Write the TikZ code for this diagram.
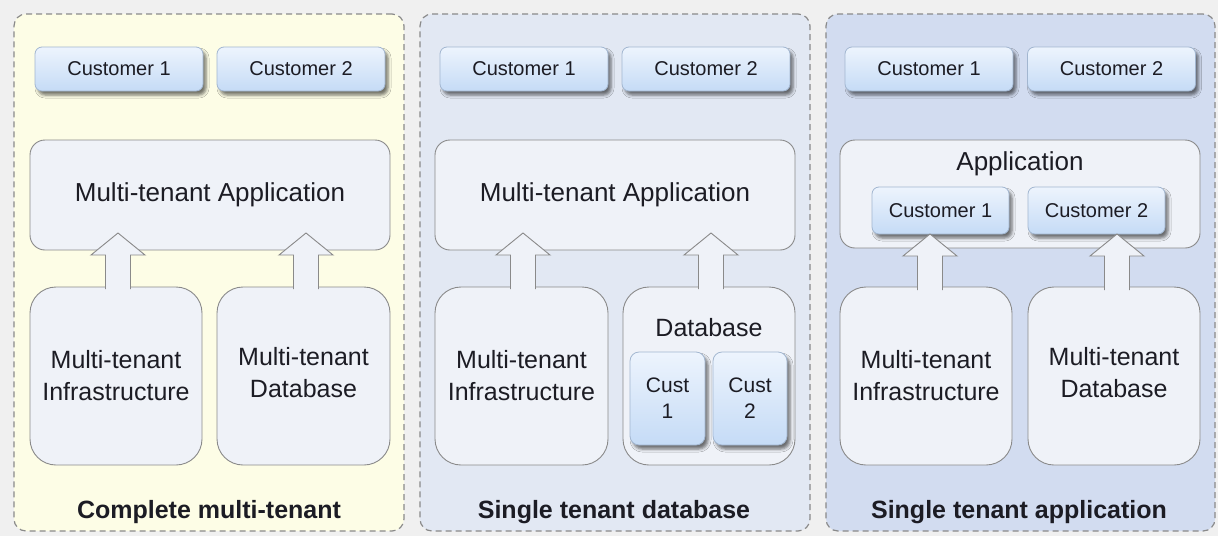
\documentclass[tikz,border=0pt]{standalone}
\usepackage{fontspec}
\setmainfont{Liberation Sans}
\usetikzlibrary{calc,shadows.blur}
\definecolor{bg}{HTML}{F0F0F0}
\definecolor{pone}{HTML}{FDFDE6}
\definecolor{ptwo}{HTML}{E2E8F3}
\definecolor{pthree}{HTML}{D2DCF0}
\definecolor{boxfill}{HTML}{EFF2F8}
\definecolor{boxline}{HTML}{8A8A8A}
\definecolor{custtop}{HTML}{EDF4FD}
\definecolor{custbot}{HTML}{C5DBF6}
\definecolor{custline}{HTML}{A2B6D0}
\definecolor{txt}{HTML}{1C1C24}
\tikzset{
  panel/.style={draw=boxline, line width=1.2pt, dash pattern=on 6pt off 4pt, rounded corners=12pt, inner sep=0pt,
    minimum width=390pt, minimum height=517pt},
  cust/.style={draw=custline, line width=0.8pt, rounded corners=7pt, top color=custtop, bottom color=custbot,
    inner sep=0pt, text=txt, font=\fontsize{20}{24}\selectfont,
    blur shadow={shadow xshift=3pt, shadow yshift=-4pt, shadow blur radius=3pt, shadow opacity=55}},
  custw/.style={cust, minimum width=168pt, minimum height=44pt},
  box/.style={draw=boxline, line width=0.9pt, fill=boxfill, inner sep=0pt, text=txt},
  appbox/.style={box, rounded corners=15pt, minimum width=360pt, minimum height=110pt, font=\fontsize{26}{30}\selectfont},
  lowbox/.style={box, rounded corners=26pt, minimum width=172pt, minimum height=178pt, align=center,
    font=\fontsize{25}{32}\selectfont},
  lbl/.style={inner sep=0pt, text=txt},
  lowlbl/.style={lbl, align=center, font=\fontsize{25}{32}\selectfont},
  title/.style={inner sep=0pt, text=txt, font=\bfseries\fontsize{25}{30}\selectfont},
  blockarr/.style={draw=boxline, line width=0.9pt, fill=boxfill, line join=miter},
}
\newcommand{\blockup}[1]{%
  \filldraw[blockarr] ($(#1)+(-12.5,0)$) -- ++(0,-34) -- ++(-14.5,0) -- ++(27,-22) -- ++(27,22) -- ++(-14.5,0) -- ++(0,34);}
\begin{document}
\begin{tikzpicture}[x=1pt,y=-1pt]
\fill[bg] (0,0) rectangle (1218,536);
\useasboundingbox (0,0) rectangle (1218,536);

% panels
\node[panel, fill=pone] (pan1) at (209,272.5) {};
\node[panel, fill=ptwo] (pan2) at (615,272.5) {};
\node[panel, fill=pthree, minimum width=389pt] (pan3) at (1020.5,272.5) {};

% ---------- Panel 1 ----------
\node[custw] (p1c1) at (119,69) {Customer 1};
\node[custw] (p1c2) at (301,69) {Customer 2};
\node[appbox] (p1app) at (210,195) {Multi-tenant Application};
\node[lowbox] (p1inf) at (116,376) {Multi-tenant\\Infrastructure};
\node[lowbox, minimum width=173pt] (p1db) at (303.5,376) {};
\node[lowlbl] (p1dbl) at (303.5,373) {Multi-tenant\\Database};
\coordinate (p1a1) at (118,289);
\coordinate (p1a2) at (306,289);
\blockup{p1a1}
\blockup{p1a2}
\node[title] (p1t) at (209,512) {Complete multi-tenant};

% ---------- Panel 2 ----------
\node[custw] (p2c1) at (524,69) {Customer 1};
\node[custw] (p2c2) at (706,69) {Customer 2};
\node[appbox] (p2app) at (615,195) {Multi-tenant Application};
\node[lowbox, minimum width=173pt] (p2inf) at (521.5,376) {Multi-tenant\\Infrastructure};
\node[box, rounded corners=26pt, minimum width=172pt, minimum height=178pt] (p2db) at (709,376) {};
\node[lbl, font=\fontsize{25}{30}\selectfont] (p2dbl) at (709,328) {Database};
\node[cust, minimum width=75pt, minimum height=93pt, rounded corners=9pt, align=center,
  font=\fontsize{21}{26}\selectfont] (p2k1) at (667.5,398.5) {Cust\\1};
\node[cust, minimum width=74pt, minimum height=93pt, rounded corners=9pt, align=center,
  font=\fontsize{21}{26}\selectfont] (p2k2) at (750,398.5) {Cust\\2};
\coordinate (p2a1) at (523,289);
\coordinate (p2a2) at (711,289);
\blockup{p2a1}
\blockup{p2a2}
\node[title] (p2t) at (614,512) {Single tenant database};

% ---------- Panel 3 ----------
\node[custw] (p3c1) at (929,69) {Customer 1};
\node[custw] (p3c2) at (1111.5,69) {Customer 2};
\node[appbox, minimum height=108pt] (p3app) at (1020,194) {};
\node[lbl, font=\fontsize{26}{30}\selectfont] (p3appl) at (1020,164) {Application};
\node[cust, minimum width=137pt, minimum height=47pt] (p3k1) at (940.5,210.5) {Customer 1};
\node[cust, minimum width=137pt, minimum height=47pt] (p3k2) at (1096.5,210.5) {Customer 2};
\node[lowbox] (p3inf) at (926,376) {Multi-tenant\\Infrastructure};
\node[lowbox] (p3db) at (1114,376) {};
\node[lowlbl] (p3dbl) at (1114,373) {Multi-tenant\\Database};
\coordinate (p3a1) at (930,290);
\coordinate (p3a2) at (1117,290);
\blockup{p3a1}
\blockup{p3a2}
\node[title] (p3t) at (1019,512) {Single tenant application};
\end{tikzpicture}
\end{document}
